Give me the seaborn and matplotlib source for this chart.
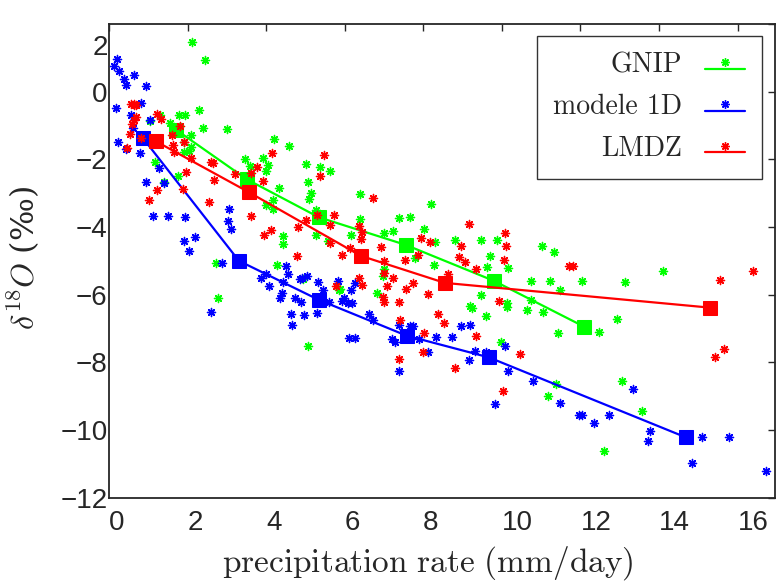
import numpy as np
import pandas as pd
import seaborn as sns
import matplotlib.pyplot as plt
from matplotlib.lines import Line2D
from matplotlib.legend_handler import HandlerTuple, HandlerLine2D
from matplotlib.transforms import ScaledTranslation

# scatter data: delta18O vs precipitation rate
gnip_x = [2.11, 2.44, 2.29, 2.39, 3.0, 1.78, 1.93, 1.30, 1.04, 1.55, 2.09, 2.09, 2.04, 1.91, 1.91,
          1.17, 1.40, 1.76, 3.46, 3.59, 3.92, 4.05, 4.20, 4.58, 4.0, 5.01, 5.37, 5.62, 5.06, 4.33,
          5.14, 5.09, 4.17, 4.0, 4.17, 5.27, 6.39, 8.19, 7.38, 7.66, 8.02, 7.23, 7.0, 6.39, 6.16,
          4.43, 4.43, 5.27, 5.57, 4.27, 7.0, 6.97, 6.82, 5.85, 7.79, 8.27, 8.3, 8.80, 9.47, 9.87,
          9.69, 10.15, 9.62, 9.47, 9.19, 9.24, 9.59, 10.13, 10.13, 9.97, 10.64, 10.74, 11.04, 11.02,
          11.32, 10.74, 11.22, 11.48, 12.04, 11.43, 12.47, 12.93, 13.13, 14.10, 13.05, 13.56, 12.6,
          11.37, 11.17, 2.72, 2.77, 5.06, 4.93, 5.88]
gnip_y = [1.47, 0.94, -0.53, -1.06, -1.09, -0.68, -0.68, -0.68, -0.88, -0.94, -1.29, -1.65, -1.74,
          -1.79, -1.5, -2.09, -2.68, -2.5, -2.0, -2.2, -1.97, -2.18, -1.41, -1.62, -2.35, -2.15,
          -2.24, -2.35, -2.68, -2.85, -3.0, -3.18, -3.21, -3.35, -3.47, -3.5, -3.03, -3.32, -3.74,
          -3.71, -4.06, -4.12, -4.18, -3.76, -4.24, -4.26, -4.5, -4.24, -4.41, -5.12, -5.24, -5.44,
          -5.94, -5.85, -4.91, -5.12, -4.44, -4.38, -4.38, -4.38, -4.85, -5.21, -5.18, -6.0, -6.32,
          -6.38, -6.62, -6.24, -6.35, -7.41, -6.44, -6.15, -6.5, -4.56, -4.74, -5.59, -5.59, -5.85,
          -5.59, -7.12, -7.09, -6.71, -5.62, -5.29, -8.56, -9.44, -10.62, -8.65, -9.0, -5.06, -6.09,
          -7.5, -5.53, -5.82]

model_x = [0.20, 0.13, 0.25, 0.38, 0.43, 0.64, 0.94, 0.18, 0.81, 0.56, 0.61, 1.04, 0.23, 0.43, 0.79,
           1.27, 0.94, 1.40, 1.12, 1.50, 1.93, 3.05, 3.03, 3.10, 1.91, 2.19, 2.04, 2.88, 2.60, 3.87,
           4.0, 4.07, 4.43, 4.50, 4.55, 4.40, 4.35, 4.73, 4.89, 4.63, 4.66, 4.96, 4.86, 5.04, 5.32,
           5.45, 5.29, 5.60, 5.83, 5.93, 5.98, 6.08, 6.18, 6.16, 6.26, 6.11, 6.26, 6.62, 6.72, 7.2,
           7.28, 7.38, 7.66, 7.89, 8.12, 8.32, 7.38, 8.73, 8.96, 9.19, 9.31, 9.16, 9.59, 10.08, 10.15,
           9.82, 10.79, 11.48, 11.96, 12.04, 12.34, 12.72, 13.33, 13.77, 13.72, 15.09, 15.78, 14.83,
           16.72, 4.91, 7.74]
model_y = [0.97, 0.76, 0.62, 0.38, 0.2, 0.5, 0.18, -0.47, -0.35, -0.68, -1.06, -0.85, -1.5, -1.7,
           -1.82, -2.27, -2.68, -2.71, -3.68, -3.68, -3.71, -3.47, -3.82, -4.06, -4.41, -4.29, -4.7,
           -5.06, -6.5, -5.5, -5.38, -5.74, -5.62, -5.15, -5.38, -5.94, -6.09, -6.09, -6.21, -6.56,
           -6.88, -6.59, -5.53, -5.44, -5.62, -5.85, -6.53, -6.21, -5.59, -6.18, -6.09, -6.24, -6.24,
           -5.85, -5.65, -7.29, -7.29, -6.56, -6.76, -7.32, -7.41, -6.88, -6.91, -7.32, -7.68, -7.26,
           -8.26, -7.26, -6.91, -6.88, -7.65, -7.94, -7.68, -7.5, -8.26, -9.24, -8.56, -9.21, -9.56,
           -9.56, -9.79, -9.56, -8.79, -10.03, -10.32, -10.21, -10.21, -10.97, -11.21, -5.5, -6.91]

lmdz_x = [0.64, 0.69, 0.69, 0.64, 0.59, 0.53, 0.46, 0.81, 1.22, 1.32, 1.81, 1.60, 1.63, 1.91, 1.65,
          2.09, 1.96, 1.22, 1.02, 1.88, 2.54, 2.60, 2.65, 2.67, 3.21, 3.61, 3.77, 3.92, 4.15, 3.61,
          5.47, 5.37, 6.72, 5.73, 5.62, 5.29, 5.01, 4.81, 4.12, 3.94, 6.36, 6.44, 6.41, 5.62, 6.13,
          5.93, 4.78, 6.92, 7.0, 7.53, 7.86, 7.94, 8.17, 7.0, 7.23, 7.74, 7.56, 8.12, 6.36, 6.44,
          7.07, 5.78, 6.97, 7.0, 7.38, 8.37, 9.16, 10.08, 10.10, 8.96, 8.91, 9.06, 10.05, 9.34, 11.70,
          11.81, 8.63, 9.92, 8.52, 9.34, 10.46, 8.80, 8.02, 7.99, 10.03, 15.55, 16.39, 15.65, 15.42,
          7.40, 7.38, 0.56, 0.64]
lmdz_y = [-0.41, -0.41, -0.76, -0.85, -0.97, -1.24, -1.68, -1.38, -0.65, -0.82, -1.03, -1.29, -1.59,
          -1.5, -1.79, -1.97, -2.38, -2.91, -3.21, -2.88, -3.26, -2.09, -2.12, -2.62, -2.44, -2.41,
          -2.24, -2.65, -1.82, -3.68, -1.88, -2.5, -3.15, -3.65, -3.94, -3.65, -3.79, -4.0, -4.09,
          -4.24, -3.97, -4.15, -4.35, -4.47, -4.62, -4.82, -4.85, -4.59, -5.0, -4.97, -4.82, -4.32,
          -4.44, -5.35, -5.5, -5.65, -5.82, -5.97, -5.5, -5.71, -5.74, -5.74, -6.06, -6.21, -6.21,
          -6.56, -3.91, -4.18, -4.56, -4.56, -4.88, -5.03, -4.97, -5.24, -5.15, -5.15, -5.38, -6.18,
          -6.82, -7.21, -7.74, -8.15, -7.12, -7.68, -8.85, -5.56, -5.29, -7.59, -7.85, -6.76, -7.91,
          -0.38, -0.38]

# binned means
gnip_mx = [1.70, 3.51, 5.34, 7.56, 9.80, 12.09]
gnip_my = [-1.12, -2.59, -3.71, -4.53, -5.59, -6.94]
model_mx = [0.87, 3.31, 5.34, 7.58, 9.67, 14.68]
model_my = [-1.38, -5.0, -6.15, -7.21, -7.85, -10.21]
lmdz_mx = [1.20, 3.56, 6.41, 8.55, 15.29]
lmdz_my = [-1.47, -2.97, -4.85, -5.65, -6.38]

names = ["GNIP", "modele 1D", "LMDZ"]
colors = ["#00ff00", "#0000ff", "#ff0000"]

sns.set_style("white", {"xtick.direction": "in", "ytick.direction": "in",
                        "axes.edgecolor": "0.15", "xtick.top": True, "ytick.right": True})
plt.rcParams["font.family"] = ["cmr10", "DejaVu Serif"]
plt.rcParams["mathtext.fontset"] = "cm"
plt.rcParams["axes.formatter.use_mathtext"] = True

fig = plt.figure(figsize=(7.78, 5.83), dpi=100)
ax = fig.add_axes([0.140, 0.146, 0.856, 0.813])

ast = (8, 2, 0)  # asterisk marker like matlab '*'
series = [(gnip_x, gnip_y, gnip_mx, gnip_my),
          (model_x, model_y, model_mx, model_my),
          (lmdz_x, lmdz_y, lmdz_mx, lmdz_my)]
for i, (sx, sy, mx, my) in enumerate(series):
    sns.scatterplot(x=sx, y=sy, marker=ast, s=34, color=colors[i], edgecolor=colors[i],
                    linewidth=1, ax=ax, zorder=3 + 2 * i)
    sns.lineplot(x=mx, y=my, color=colors[i], lw=1.6, marker="s", markersize=10,
                 markeredgecolor=colors[i], estimator=None, ax=ax, zorder=4 + 2 * i)

ax.set_xlim(0, 16.95)
ax.set_ylim(-12, 2)
for s in ax.spines.values():
    s.set_linewidth(1.3)
ax.tick_params(which="both", length=5, width=1, color="0.15", top=True, right=True)
ax.tick_params(axis="x", pad=9)
ax.tick_params(axis="y", pad=1)

tick_font = ["Liberation Sans", "DejaVu Sans"]
xt = list(range(0, 17, 2))
yt = list(range(-12, 3, 2))
ax.set_xticks(xt, [str(v) for v in xt], fontsize=20, family=tick_font, ha="left")
ax.set_yticks(yt, [str(v).replace("-", "\u2212") for v in yt], fontsize=20, family=tick_font)
top_lab = ax.get_yticklabels()[-1]
top_lab.set_transform(top_lab.get_transform() + ScaledTranslation(0, -15 / 72, fig.dpi_scale_trans))

ax.set_xlabel(r"$\mathrm{precipitation\ rate\ (mm/day)}$", fontsize=24)
ax.set_ylabel(r"$\delta^{18}O$ (‰)", fontsize=23, family="DejaVu Serif")
ax.xaxis.set_label_coords(0.479, -0.097)
ax.yaxis.set_label_coords(-0.10, 0.506)


# legend: line sits at text baseline, marker above it (matlab look)
class ShiftedLine(HandlerLine2D):
    def __init__(self, dy, **kw):
        super().__init__(**kw)
        self.dy = dy

    def create_artists(self, legend, orig_handle, xdescent, ydescent, width, height, fontsize, trans):
        arts = super().create_artists(legend, orig_handle, xdescent, ydescent, width, height,
                                      fontsize, trans)
        for a in arts:
            a.set_ydata(np.asarray(a.get_ydata(), dtype=float) + self.dy)
        return arts


handles, hmap = [], {}
for c in colors:
    ln = Line2D([], [], color=c, lw=1.6)
    mk = Line2D([], [], color=c, marker=ast, ls="", ms=6, mew=1)
    hmap[ln] = ShiftedLine(-4.5)
    hmap[mk] = ShiftedLine(0.5)
    handles.append((ln, mk))
hmap[tuple] = HandlerTuple(ndivide=1)
leg = ax.legend(handles, names, handler_map=hmap,
                loc="upper right", bbox_to_anchor=(0.980, 0.975), borderaxespad=0,
                markerfirst=False, fontsize=20, fancybox=False, framealpha=1,
                edgecolor="0.2", handlelength=1.45, handletextpad=0.8, labelspacing=0.55,
                borderpad=0.6)
leg.get_frame().set_linewidth(1)

fig.savefig("out.png", dpi=100)
